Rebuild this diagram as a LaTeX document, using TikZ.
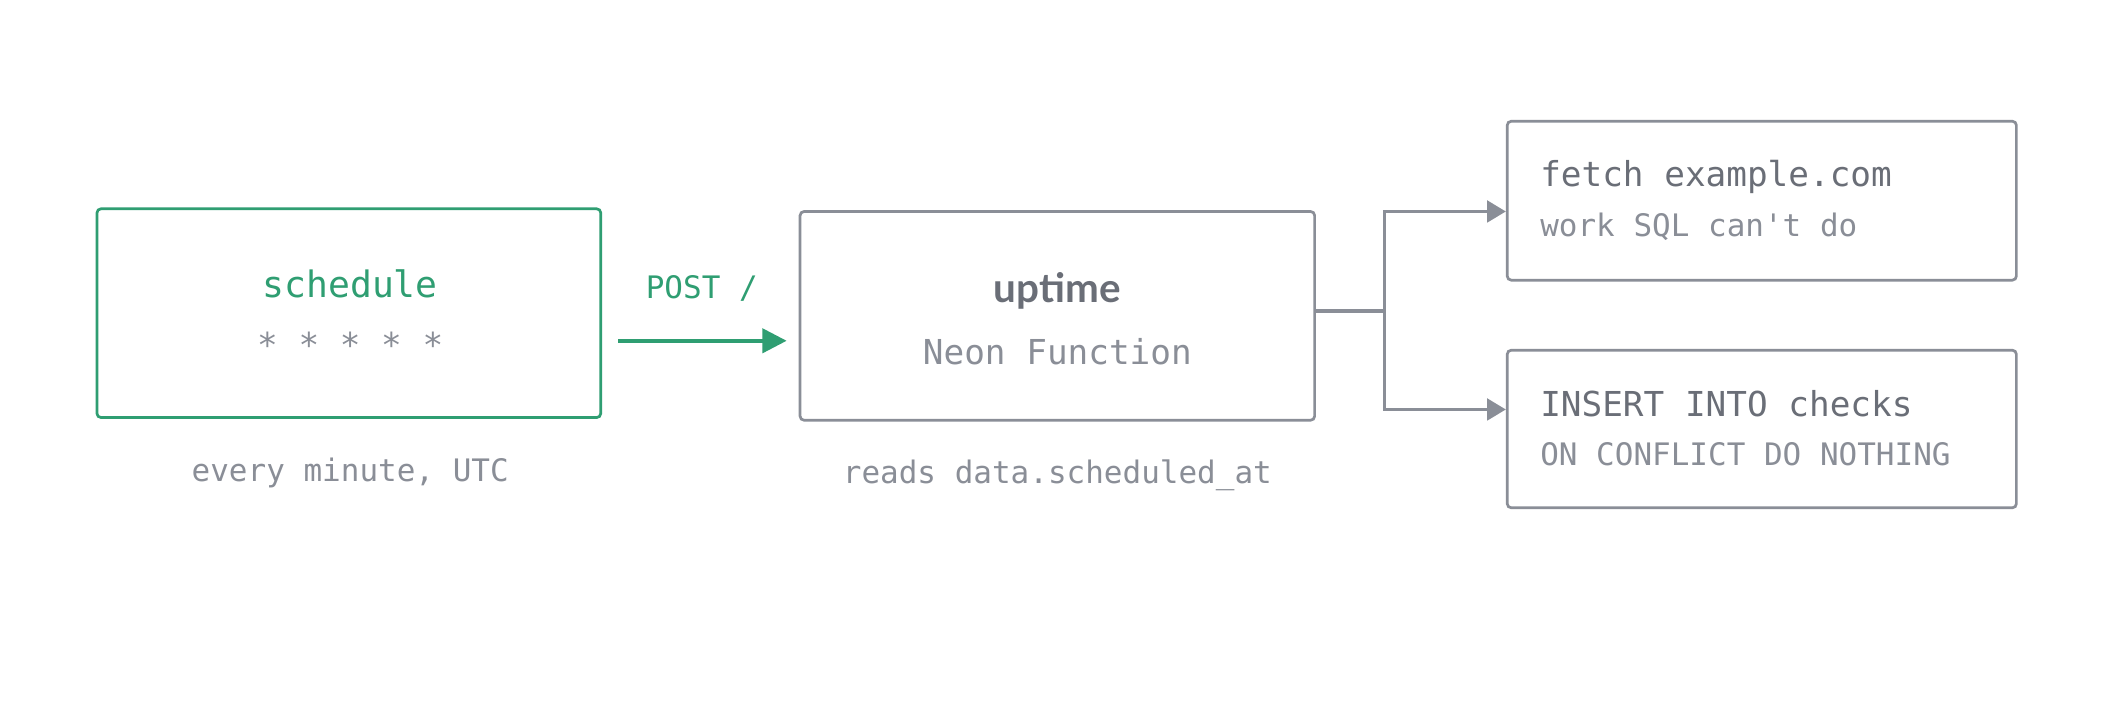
\documentclass[tikz,border=0pt]{standalone}
\usepackage{fontspec}
\setmainfont{Lato}
\setmonofont{DejaVu Sans Mono}
\usetikzlibrary{arrows.meta}
\definecolor{grn}{HTML}{2F9E72}
\definecolor{gry}{HTML}{8A8E97}
\definecolor{dk}{HTML}{6A6E77}
\begin{document}
\begin{tikzpicture}[x=1pt,y=-1pt,
  box/.style={draw=gry,line width=2pt,rounded corners=3pt},
  mono/.style={font=\ttfamily\fontsize{23}{26}\selectfont,text=gry},
  big/.style={font=\ttfamily\fontsize{25.5}{28}\selectfont,text=dk},
  conn/.style={draw=gry,line width=2.6pt,-{Triangle[length=14pt,width=16pt]}}]
\useasboundingbox[fill=white] (0,0) rectangle (1568,523);
\node[box,draw=grn,minimum width=374pt,minimum height=155pt] (sch) at (259,232.5) {};
\node[font=\ttfamily\fontsize{27}{30}\selectfont,text=grn] (schl) at (260,211) {schedule};
\node[big,text=gry] (stars) at (260,256) {* * * * *};
\node[mono] (every) at (260,351) {every minute, UTC};
\node[box,minimum width=382pt,minimum height=155pt] (up) at (785,234.5) {};
\node[font=\fontsize{30}{34}\selectfont\bfseries,text=dk] (upl) at (785,216) {uptime};
\node[big,text=gry] (neon) at (785,261) {Neon Function};
\node[mono] (reads) at (785,353) {reads data.scheduled\_at};
\node[mono,text=grn] (post) at (521,214) {POST /};
\coordinate (a1) at (459,253);
\coordinate (a2) at (584,253);
\draw[draw=grn,line width=2.6pt,-{Triangle[length=18pt,width=18pt]}] (a1) -- (a2);
\node[box,minimum width=378pt,minimum height=118pt] (f) at (1308,149) {};
\node[box,minimum width=378pt,minimum height=117pt] (ins) at (1308,318.5) {};
\node[big,anchor=west] (fl) at (1140,131) {fetch example.com};
\node[mono,anchor=west] (fs) at (1140,168) {work SQL can't do};
\node[big,anchor=west] (il) at (1140,300) {INSERT INTO checks};
\node[mono,anchor=west] (is) at (1140,337) {ON CONFLICT DO NOTHING};
\coordinate (o) at (977,231);
\coordinate (j) at (1028,231);
\coordinate (t1) at (1118,157);
\coordinate (t2) at (1118,304);
\draw[draw=gry,line width=2.6pt] (o) -- (j);
\draw[conn] (j) |- (t1);
\draw[conn] (j) |- (t2);
\end{tikzpicture}
\end{document}
